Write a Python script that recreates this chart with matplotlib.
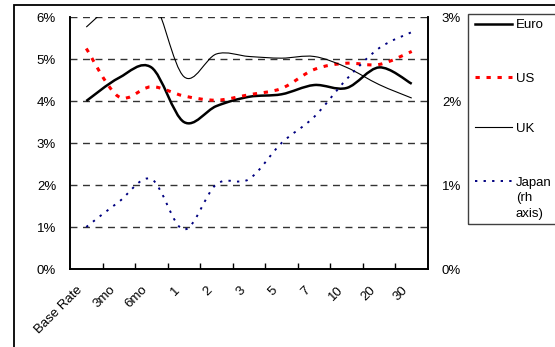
import numpy as np
import matplotlib.pyplot as plt
import matplotlib.transforms as mtransforms
from matplotlib.path import Path
from matplotlib.patches import PathPatch, Rectangle
from matplotlib.lines import Line2D

plt.rcParams['font.family'] = ['Liberation Sans', 'DejaVu Sans']

maturities = ['Base Rate', '3mo', '6mo', '1', '2', '3', '5', '7', '10', '20', '30']
euro = [4.00, 4.55, 4.80, 3.50, 3.88, 4.10, 4.16, 4.38, 4.31, 4.80, 4.41]
us = [5.25, 4.10, 4.34, 4.12, 4.02, 4.15, 4.30, 4.75, 4.90, 4.87, 5.18]
uk = [5.76, 6.40, 6.50, 4.58, 5.12, 5.06, 5.02, 5.06, 4.80, 4.39, 4.07]
japan = [0.50, 0.80, 1.07, 0.47, 1.01, 1.07, 1.50, 1.81, 2.26, 2.63, 2.82]  # right axis

W, H = 555, 347


def fig_xy(x, y):
    # pixel position (from top-left) -> figure fraction
    return x / W, 1 - y / H


def smooth_path(x, y):
    # cubic bezier through every point, like a spreadsheet "smoothed line"
    n = len(x)
    verts = [(x[0], y[0])]
    codes = [Path.MOVETO]
    for i in range(n - 1):
        a = max(i - 1, 0)
        b = min(i + 2, n - 1)
        c1 = (x[i] + (x[i + 1] - x[a]) / 6, y[i] + (y[i + 1] - y[a]) / 6)
        c2 = (x[i + 1] - (x[b] - x[i]) / 6, y[i + 1] - (y[b] - y[i]) / 6)
        verts += [c1, c2, (x[i + 1], y[i + 1])]
        codes += [Path.CURVE4] * 3
    return Path(verts, codes)


fig = plt.figure(figsize=(W / 100, H / 100), dpi=100)
ax = fig.add_axes([70 / W, 1 - 269 / H, 358 / W, 252 / H])
ax2 = ax.twinx()

xs = np.arange(len(maturities))
styles = {
    'Euro': dict(color='black', lw=1.8, ls='-'),
    'US': dict(color='#ff0000', lw=2.2, ls=(0, (1.4, 2.2))),
    'UK': dict(color='black', lw=0.8, ls='-'),
    'Japan': dict(color='#000080', lw=1.4, ls=(0, (1.2, 3.2))),
}
for name, vals, axis in [('Euro', euro, ax), ('US', us, ax), ('UK', uk, ax), ('Japan', japan, ax2)]:
    st = styles[name]
    axis.add_patch(PathPatch(smooth_path(xs, vals), fill=False, edgecolor=st['color'],
                             lw=st['lw'], ls=st['ls'], zorder=3))

ax.set_xlim(-0.5, len(maturities) - 0.5)
ax.set_ylim(0, 6)
ax2.set_ylim(0, 3)

ax.set_yticks(np.arange(0, 7))
ax.set_yticklabels([f'{v}%' for v in range(7)], fontsize=9.5)
ax2.set_yticks(np.arange(0, 4))
ax2.set_yticklabels([f'{v}%' for v in range(4)], fontsize=9.5)
ax.tick_params(axis='y', length=0, pad=10)
ax2.tick_params(axis='y', length=0, pad=10)

# category labels, slanted, set a little left of each slot centre
ax.set_xticks(xs)
ax.set_xticklabels([])
ax.tick_params(axis='x', which='major', length=0)
shift = mtransforms.ScaledTranslation(-10 / 100, -15 / 100, fig.dpi_scale_trans)
for x, lab in zip(xs, maturities):
    ax.text(x, 0, lab, transform=ax.get_xaxis_transform() + shift, rotation=45,
            ha='right', va='top', rotation_mode='anchor', fontsize=9.5)
ax.set_xticks(xs[:-1] + 0.5, minor=True)
ax.tick_params(axis='x', which='minor', direction='in', length=4, width=1)

for v in range(1, 7):
    ax.axhline(v, color='#333333', lw=1, ls=(0, (5, 4)), zorder=1)

for a in (ax, ax2):
    a.spines['top'].set_visible(False)
    for s in a.spines.values():
        s.set_linewidth(1.2)
ax.patch.set_visible(False)

# legend box, running off the right edge
x0, y0 = fig_xy(468, 224)
fig.patches.append(Rectangle((x0, y0), 0.3, (224 - 14) / H, transform=fig.transFigure,
                             fill=False, edgecolor='#404040', lw=1))
entries = [('Euro', 24), ('US', 77), ('UK', 127), ('Japan', 181)]
for (label, y), key in zip(entries, styles):
    lx0, ly = fig_xy(475, y)
    lx1, _ = fig_xy(512, y)
    fig.add_artist(Line2D([lx0, lx1], [ly, ly], transform=fig.transFigure, **styles[key]))
    tx, ty = fig_xy(516, y + 4.5)
    fig.text(tx, ty, label, fontsize=9.5, va='baseline', ha='left')
for i, extra in enumerate(['(rh', 'axis)']):
    tx, ty = fig_xy(516, 181 + 4.5 + 16 * (i + 1))
    fig.text(tx, ty, extra, fontsize=9.5, va='baseline', ha='left')

# outer chart border
fig.patches.append(Rectangle((14 / W, -0.1), 1, 1 - 5 / H + 0.1,
                             transform=fig.transFigure, fill=False,
                             edgecolor='black', lw=1.3))

fig.savefig('out.png', dpi=100)
